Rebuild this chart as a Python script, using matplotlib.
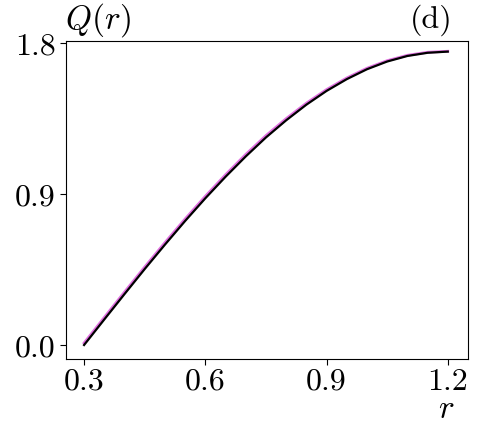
import matplotlib
matplotlib.use("Agg")
import matplotlib.pyplot as plt

plt.rcParams['font.family'] = 'serif'
plt.rcParams['font.serif'] = ['cmr10']
plt.rcParams['mathtext.fontset'] = 'cm'
plt.rcParams['axes.formatter.use_mathtext'] = True

# values
r = [0.30, 0.35, 0.40, 0.45, 0.50, 0.55, 0.60, 0.65, 0.70, 0.75,
     0.80, 0.85, 0.90, 0.95, 1.00, 1.05, 1.10, 1.15, 1.20]
q_black = [0.000, 0.152, 0.303, 0.452, 0.597, 0.738, 0.873, 1.001, 1.122, 1.235,
           1.337, 1.430, 1.512, 1.582, 1.641, 1.687, 1.720, 1.739, 1.746]
q_pink = [0.012, 0.164, 0.315, 0.464, 0.609, 0.750, 0.885, 1.013, 1.134, 1.246,
          1.347, 1.439, 1.520, 1.589, 1.647, 1.692, 1.724, 1.742, 1.748]
xticks = [0.3, 0.6, 0.9, 1.2]
yticks = [0.0, 0.9, 1.8]

fig = plt.figure(figsize=(4.88, 4.27), dpi=100)
ax = fig.add_axes([0.135, 0.157, 0.824, 0.745])

ax.plot(r, q_pink, color='#e070e0', lw=2.0)
ax.plot(r, q_black, color='black', lw=1.6)

ax.set_xlim(0.255, 1.25)
ax.set_ylim(-0.083, 1.81)
ax.set_xticks(xticks)
ax.set_yticks(yticks)
ax.set_xticklabels(['%.1f' % v for v in xticks])
ax.set_yticklabels(['%.1f' % v for v in yticks])
ax.tick_params(labelsize=23, length=4, width=0.8)
ax.tick_params(axis='x', pad=2)
for s in ax.spines.values():
    s.set_linewidth(0.8)

fig.text(0.133, 0.908, '$Q(r)$', fontsize=24, ha='left', va='bottom')
fig.text(0.928, 0.915, '(d)', fontsize=23, ha='right', va='bottom')
fig.text(0.932, 0.02, '$r$', fontsize=24, ha='right', va='baseline')

fig.savefig('out.png', dpi=100)
